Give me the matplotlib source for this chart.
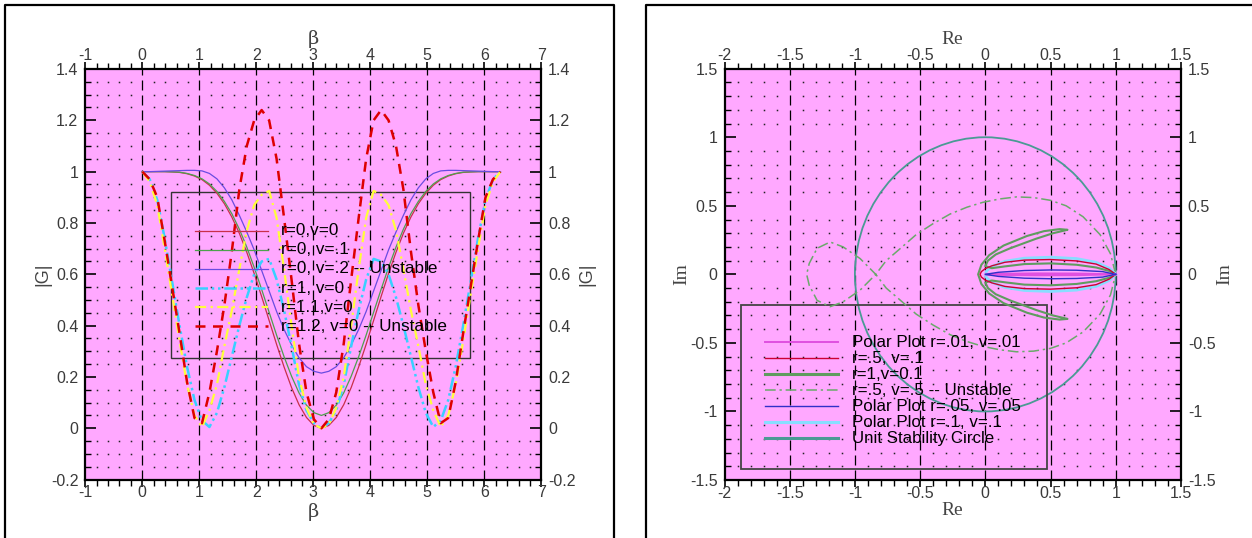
import numpy as np
import matplotlib
matplotlib.use("Agg")
import matplotlib.pyplot as plt
from matplotlib.patches import Rectangle, Circle
from matplotlib.lines import Line2D
from matplotlib.ticker import MultipleLocator, FormatStrFormatter

plt.rcParams['font.family'] = ['Liberation Sans', 'DejaVu Sans']
plt.rcParams['axes.unicode_minus'] = False

# ---------------- Left panel data: |G| vs beta ----------------
beta = [0.0, 0.131, 0.262, 0.393, 0.524, 0.654, 0.785, 0.916, 1.047, 1.178, 1.309, 1.44,
        1.571, 1.702, 1.833, 1.963, 2.094, 2.225, 2.356, 2.487, 2.618, 2.749, 2.88, 3.011,
        3.142, 3.272, 3.403, 3.534, 3.665, 3.796, 3.927, 4.058, 4.189, 4.32, 4.451, 4.581,
        4.712, 4.843, 4.974, 5.105, 5.236, 5.367, 5.498, 5.629, 5.76, 5.89, 6.021, 6.152, 6.283]

g_r0_v0 = [1.0, 1.0, 1.0, 1.0, 0.999, 0.997, 0.992, 0.983, 0.969, 0.947, 0.916, 0.875,
           0.823, 0.760, 0.686, 0.603, 0.513, 0.420, 0.327, 0.239, 0.159, 0.092, 0.042, 0.011,
           0.0, 0.011, 0.042, 0.092, 0.159, 0.239, 0.327, 0.420, 0.513, 0.603, 0.686, 0.760,
           0.823, 0.875, 0.916, 0.947, 0.969, 0.983, 0.992, 0.997, 0.999, 1.0, 1.0, 1.0, 1.0]
g_r0_v01 = [1.0, 1.0, 1.0, 1.0, 0.999, 0.998, 0.993, 0.985, 0.972, 0.952, 0.923, 0.884,
            0.836, 0.776, 0.706, 0.627, 0.541, 0.452, 0.363, 0.279, 0.203, 0.138, 0.090, 0.061,
            0.05, 0.061, 0.090, 0.138, 0.203, 0.279, 0.363, 0.452, 0.541, 0.627, 0.706, 0.776,
            0.836, 0.884, 0.923, 0.952, 0.972, 0.985, 0.993, 0.998, 0.999, 1.0, 1.0, 1.0, 1.0]
g_r0_v02 = [1.0, 1.0, 1.001, 1.002, 1.003, 1.004, 1.005, 1.005, 1.003, 0.993, 0.972, 0.937,
            0.89, 0.83, 0.765, 0.695, 0.615, 0.535, 0.455, 0.385, 0.325, 0.275, 0.24, 0.222,
            0.215, 0.222, 0.24, 0.275, 0.325, 0.385, 0.455, 0.535, 0.615, 0.695, 0.765, 0.83,
            0.89, 0.937, 0.972, 0.993, 1.003, 1.005, 1.005, 1.004, 1.003, 1.002, 1.001, 1.0, 1.0]
g_r1_v0 = [1.0, 0.97, 0.89, 0.74, 0.57, 0.40, 0.24, 0.11, 0.03, 0.005, 0.06, 0.16,
           0.28, 0.40, 0.51, 0.60, 0.65, 0.66, 0.58, 0.46, 0.32, 0.17, 0.07, 0.02,
           0.0, 0.02, 0.07, 0.17, 0.32, 0.46, 0.58, 0.66, 0.65, 0.60, 0.51, 0.40,
           0.28, 0.16, 0.06, 0.005, 0.03, 0.11, 0.24, 0.40, 0.57, 0.74, 0.89, 0.97, 1.0]
g_r11_v0 = [1.0, 0.96, 0.87, 0.70, 0.52, 0.34, 0.17, 0.05, 0.005, 0.07, 0.17, 0.32,
            0.46, 0.62, 0.77, 0.87, 0.91, 0.925, 0.82, 0.62, 0.40, 0.20, 0.08, 0.015,
            0.0, 0.015, 0.08, 0.20, 0.40, 0.62, 0.82, 0.925, 0.91, 0.87, 0.77, 0.62,
            0.46, 0.32, 0.17, 0.07, 0.005, 0.05, 0.17, 0.34, 0.52, 0.70, 0.87, 0.96, 1.0]
g_r12_v0 = [1.0, 0.97, 0.90, 0.73, 0.55, 0.37, 0.18, 0.04, 0.02, 0.14, 0.30, 0.48,
            0.69, 0.93, 1.10, 1.20, 1.24, 1.20, 1.05, 0.82, 0.58, 0.33, 0.14, 0.035,
            0.0, 0.035, 0.14, 0.33, 0.58, 0.82, 1.05, 1.20, 1.24, 1.20, 1.10, 0.93,
            0.69, 0.48, 0.30, 0.14, 0.02, 0.04, 0.18, 0.37, 0.55, 0.73, 0.90, 0.97, 1.0]

left_labels = ["r=0,v=0", "r=0, v=.1", "r=0, v=.2 -- Unstable", "r=1, v=0",
               "r=1.1,v=0", "r=1.2, v=0 -- Unstable"]

# ---------------- Right panel data: polar plots (Re, Im) ----------------
p001_re = [1.0, 0.7, 0.4, 0.1, 0.0, 0.1, 0.4, 0.7, 1.0]
p001_im = [0.0, 0.006, 0.007, 0.004, 0.0, -0.004, -0.007, -0.006, 0.0]

p05_01_re = [1.0, 0.95, 0.85, 0.7, 0.5, 0.3, 0.15, 0.05, 0.0, -0.03, -0.04, -0.03, 0.0,
             0.05, 0.15, 0.3, 0.5, 0.7, 0.85, 0.95, 1.0]
p05_01_im = [0.0, 0.035, 0.075, 0.098, 0.108, 0.104, 0.088, 0.062, 0.042, 0.02, 0.0, -0.02,
             -0.042, -0.062, -0.088, -0.104, -0.108, -0.098, -0.075, -0.035, 0.0]

p1_01_re = [1.0, 0.95, 0.85, 0.7, 0.5, 0.3, 0.15, 0.05, 0.0, 0.02, 0.08, 0.19, 0.39, 0.52,
            0.6, 0.63, 0.57, 0.45, 0.32, 0.14, 0.03, -0.03, -0.055,
            -0.03, 0.03, 0.14, 0.32, 0.45, 0.57, 0.63, 0.6, 0.52, 0.39, 0.19, 0.08, 0.02,
            0.0, 0.05, 0.15, 0.3, 0.5, 0.7, 0.85, 0.95, 1.0]
p1_01_im = [0.0, 0.025, 0.05, 0.07, 0.08, 0.075, 0.058, 0.045, 0.06, 0.1, 0.145, 0.19, 0.26,
            0.30, 0.318, 0.325, 0.33, 0.315, 0.28, 0.21, 0.14, 0.07, 0.0,
            -0.07, -0.14, -0.21, -0.28, -0.315, -0.33, -0.325, -0.318, -0.30, -0.26, -0.19,
            -0.145, -0.1, -0.06, -0.045, -0.058, -0.075, -0.08, -0.07, -0.05, -0.025, 0.0]

p05_05_re = [1.0, 0.96, 0.88, 0.75, 0.62, 0.50, 0.37, 0.24, 0.11, -0.02, -0.14, -0.27,
             -0.40, -0.53, -0.65, -0.76, -0.84, -0.96, -1.09, -1.19, -1.29, -1.35, -1.37,
             -1.35, -1.29, -1.19, -1.09, -0.96, -0.84, -0.76, -0.65, -0.53, -0.40, -0.27,
             -0.14, -0.02, 0.11, 0.24, 0.37, 0.50, 0.62, 0.75, 0.88, 0.96, 1.0]
p05_05_im = [0.0, 0.15, 0.29, 0.42, 0.50, 0.54, 0.56, 0.565, 0.55, 0.525, 0.49, 0.44,
             0.37, 0.29, 0.19, 0.10, 0.0, -0.115, -0.20, -0.236, -0.19, -0.08, 0.0,
             0.08, 0.19, 0.236, 0.20, 0.115, 0.0, -0.10, -0.19, -0.29, -0.37, -0.44,
             -0.49, -0.525, -0.55, -0.565, -0.56, -0.54, -0.50, -0.42, -0.29, -0.15, 0.0]

p005_re = [1.0, 0.9, 0.7, 0.5, 0.3, 0.1, 0.0, 0.1, 0.3, 0.5, 0.7, 0.9, 1.0]
p005_im = [0.0, 0.02, 0.03, 0.032, 0.028, 0.015, 0.0, -0.015, -0.028, -0.032, -0.03, -0.02, 0.0]

p01_re = [1.0, 0.95, 0.85, 0.7, 0.5, 0.3, 0.15, 0.05, 0.01, 0.0, 0.01, 0.05, 0.15, 0.3,
          0.5, 0.7, 0.85, 0.95, 1.0]
p01_im = [0.0, 0.045, 0.088, 0.115, 0.125, 0.118, 0.095, 0.058, 0.025, 0.0, -0.025, -0.058,
          -0.095, -0.118, -0.125, -0.115, -0.088, -0.045, 0.0]

unit_radius = 1.0

right_labels = ["Polar Plot r=.01, v=.01", "r=.5, v=.1", "r=1,v=0.1",
                "r=.5, v=.5 -- Unstable", "Polar Plot r=.05, v=.05",
                "Polar Plot r=.1, v=.1", "Unit Stability Circle"]

# ---------------- Styling ----------------
PINK = '#ffa8ff'
W, H = 1252, 538
fig = plt.figure(figsize=(W / 100, H / 100), dpi=100)

def fx(px):
    return px / W
def fy(py):
    return 1 - py / H

# panel frames
for xs, ys in [([5, 5, 613.5, 613.5], [540, 5, 5, 540]),
               ([1260, 645.5, 645.5], [5, 5, 540])]:
    fig.add_artist(Line2D([fx(x) for x in xs], [fy(y) for y in ys], color='black',
                          lw=1.6, transform=fig.transFigure))

axL = fig.add_axes([fx(85.3), fy(479.6), fx(541.3) - fx(85.3), fy(69) - fy(479.6)])
axR = fig.add_axes([fx(724.5), fy(480), fx(1180.9) - fx(724.5), fy(68.7) - fy(480)])

TICKC = '#3a3a3a'
TICKFS = 11.5

def style_axes(ax, xlim, ylim, xmaj, xmin, ymaj, ymin, xfmt, yfmt):
    ax.set_facecolor(PINK)
    ax.set_xlim(*xlim)
    ax.set_ylim(*ylim)
    ax.xaxis.set_major_locator(MultipleLocator(xmaj))
    ax.xaxis.set_minor_locator(MultipleLocator(xmin))
    ax.yaxis.set_major_locator(MultipleLocator(ymaj))
    ax.yaxis.set_minor_locator(MultipleLocator(ymin))
    ax.xaxis.set_major_formatter(FormatStrFormatter(xfmt))
    ax.yaxis.set_major_formatter(FormatStrFormatter(yfmt))
    ax.tick_params(axis='x', which='both', direction='out', top=True, bottom=True,
                   labeltop=True, labelbottom=True, labelsize=TICKFS, labelcolor=TICKC,
                   pad=-1)
    ax.tick_params(axis='x', which='major', length=5, width=1.2)
    ax.tick_params(axis='x', which='minor', length=4, width=1.0)
    ax.tick_params(axis='y', which='both', direction='in', left=True, right=True,
                   labelleft=True, labelright=True, labelsize=TICKFS, labelcolor=TICKC,
                   pad=5)
    ax.tick_params(axis='y', which='major', length=8, width=1.2)
    ax.tick_params(axis='y', which='minor', length=4, width=1.0)
    for s in ax.spines.values():
        s.set_linewidth(1.6)
        s.set_color('black')
    # vertical dashed major grid lines
    for xv in ax.xaxis.get_majorticklocs():
        if xlim[0] < xv < xlim[1]:
            ax.axvline(xv, color='black', lw=0.9, dashes=(8, 4), zorder=1)
    # dot grid at minor intersections
    xs = [v for v in ax.xaxis.get_minorticklocs() if xlim[0] < v < xlim[1]]
    ys = [v for v in ax.yaxis.get_minorticklocs() if ylim[0] < v < ylim[1]]
    X, Y = np.meshgrid(xs, ys)
    ax.plot(X.ravel(), Y.ravel(), ls='none', marker='s', ms=1.1, mew=0,
            color='#222222', zorder=1)

style_axes(axL, (-1, 7), (-0.2, 1.4), 1, 0.2, 0.2, 0.05, '%g', '%g')
style_axes(axR, (-2, 1.5), (-1.5, 1.5), 0.5, 0.1, 0.5, 0.1, '%g', '%g')

# axis titles
TITC = '#444444'
for y in (1.072, -0.078):
    axL.text(0.5, y, 'β', transform=axL.transAxes, ha='center', va='center', fontsize=14,
             color=TITC, family=['DejaVu Serif'])
axL.text(-0.092, 0.5, '|G|', transform=axL.transAxes, ha='center', va='center',
         fontsize=13, rotation=90, color=TITC)
axL.text(1.10, 0.5, '|G|', transform=axL.transAxes, ha='center', va='center',
         fontsize=13, rotation=90, color=TITC)
for y in (1.07, -0.074):
    axR.text(0.5, y, 'Re', transform=axR.transAxes, ha='center', va='center', fontsize=14,
             color=TITC, family=['Liberation Serif'])
axR.text(-0.094, 0.5, 'Im', transform=axR.transAxes, ha='center', va='center', fontsize=14,
         rotation=90, color=TITC, family=['Liberation Serif'])
axR.text(1.097, 0.5, 'Im', transform=axR.transAxes, ha='center', va='center', fontsize=14,
         rotation=90, color=TITC, family=['Liberation Serif'])

# ---------------- Left curves ----------------
left_series = [
    (g_r0_v0, dict(color='#c8304a', lw=0.9, ls='-')),
    (g_r0_v01, dict(color='#4ea04e', lw=0.9, ls='-')),
    (g_r0_v02, dict(color='#6a4ce0', lw=0.9, ls='-')),
    (g_r1_v0, dict(color='#38d0ff', lw=1.8, ls=(0, (5, 1.5, 1, 1.5, 1, 1.5)))),
    (g_r11_v0, dict(color='#ffff3a', lw=1.6, ls=(0, (5, 2, 1, 2)))),
    (g_r12_v0, dict(color='#dd0000', lw=1.8, ls=(0, (4, 3)))),
]
for vals, st in left_series:
    axL.plot(beta, vals, zorder=3, **st)

# left legend (Tecplot-style box)
axL.add_patch(Rectangle((0.5, 0.272), 5.25, 0.65, fill=False, edgecolor='#333333',
                        lw=1.0, zorder=2))
for i, ((vals, st), lab) in enumerate(zip(left_series, left_labels)):
    yy = 0.77 - i * 0.0745
    axL.plot([0.92, 2.2], [yy, yy], zorder=4, **st)
    axL.text(2.43, yy, lab, fontsize=12.3, va='center', ha='left', color='black', zorder=5)

# ---------------- Right curves ----------------
right_series = [
    (p001_re, p001_im, dict(color='#e050e0', lw=1.4, ls='-')),
    (p05_01_re, p05_01_im, dict(color='#cc0033', lw=1.0, ls='-')),
    (p1_01_re, p1_01_im, dict(color='#5f9c5f', lw=1.5, ls='-')),
    (p05_05_re, p05_05_im, dict(color='#6aaa6a', lw=1.1, ls=(0, (7, 2.5, 1.5, 2.5)))),
    (p005_re, p005_im, dict(color='#3030c8', lw=1.0, ls='-')),
    (p01_re, p01_im, dict(color='#88ddff', lw=2.0, ls='-')),
]
circ_style = dict(color='#4a9a94', lw=1.3, ls='-')

axR.add_patch(Circle((0, 0), unit_radius, fill=False, edgecolor=circ_style['color'],
                     lw=circ_style['lw'], zorder=2))
draw_order = [3, 5, 2, 1, 0, 4]
for n, idx in enumerate(draw_order):
    re, im, st = right_series[idx]
    axR.plot(re, im, zorder=3 + n * 0.1, **st)

axR.add_patch(Rectangle((-1.875, -1.42), 2.35, 1.196, fill=False, edgecolor='#444444',
                        lw=1.3, zorder=2))
legend_styles = [s for _, _, s in right_series] + [circ_style]
for i, (st, lab) in enumerate(zip(legend_styles, right_labels)):
    yy = -0.494 - i * 0.117
    lst = dict(st)
    if i in (2, 5, 6):
        lst['lw'] = 2.2
    axR.plot([-1.69, -1.13], [yy, yy], zorder=4, **lst)
    axR.text(-1.02, yy, lab, fontsize=12.2, va='center', ha='left', color='black', zorder=5)

fig.savefig('out.png', dpi=100)
